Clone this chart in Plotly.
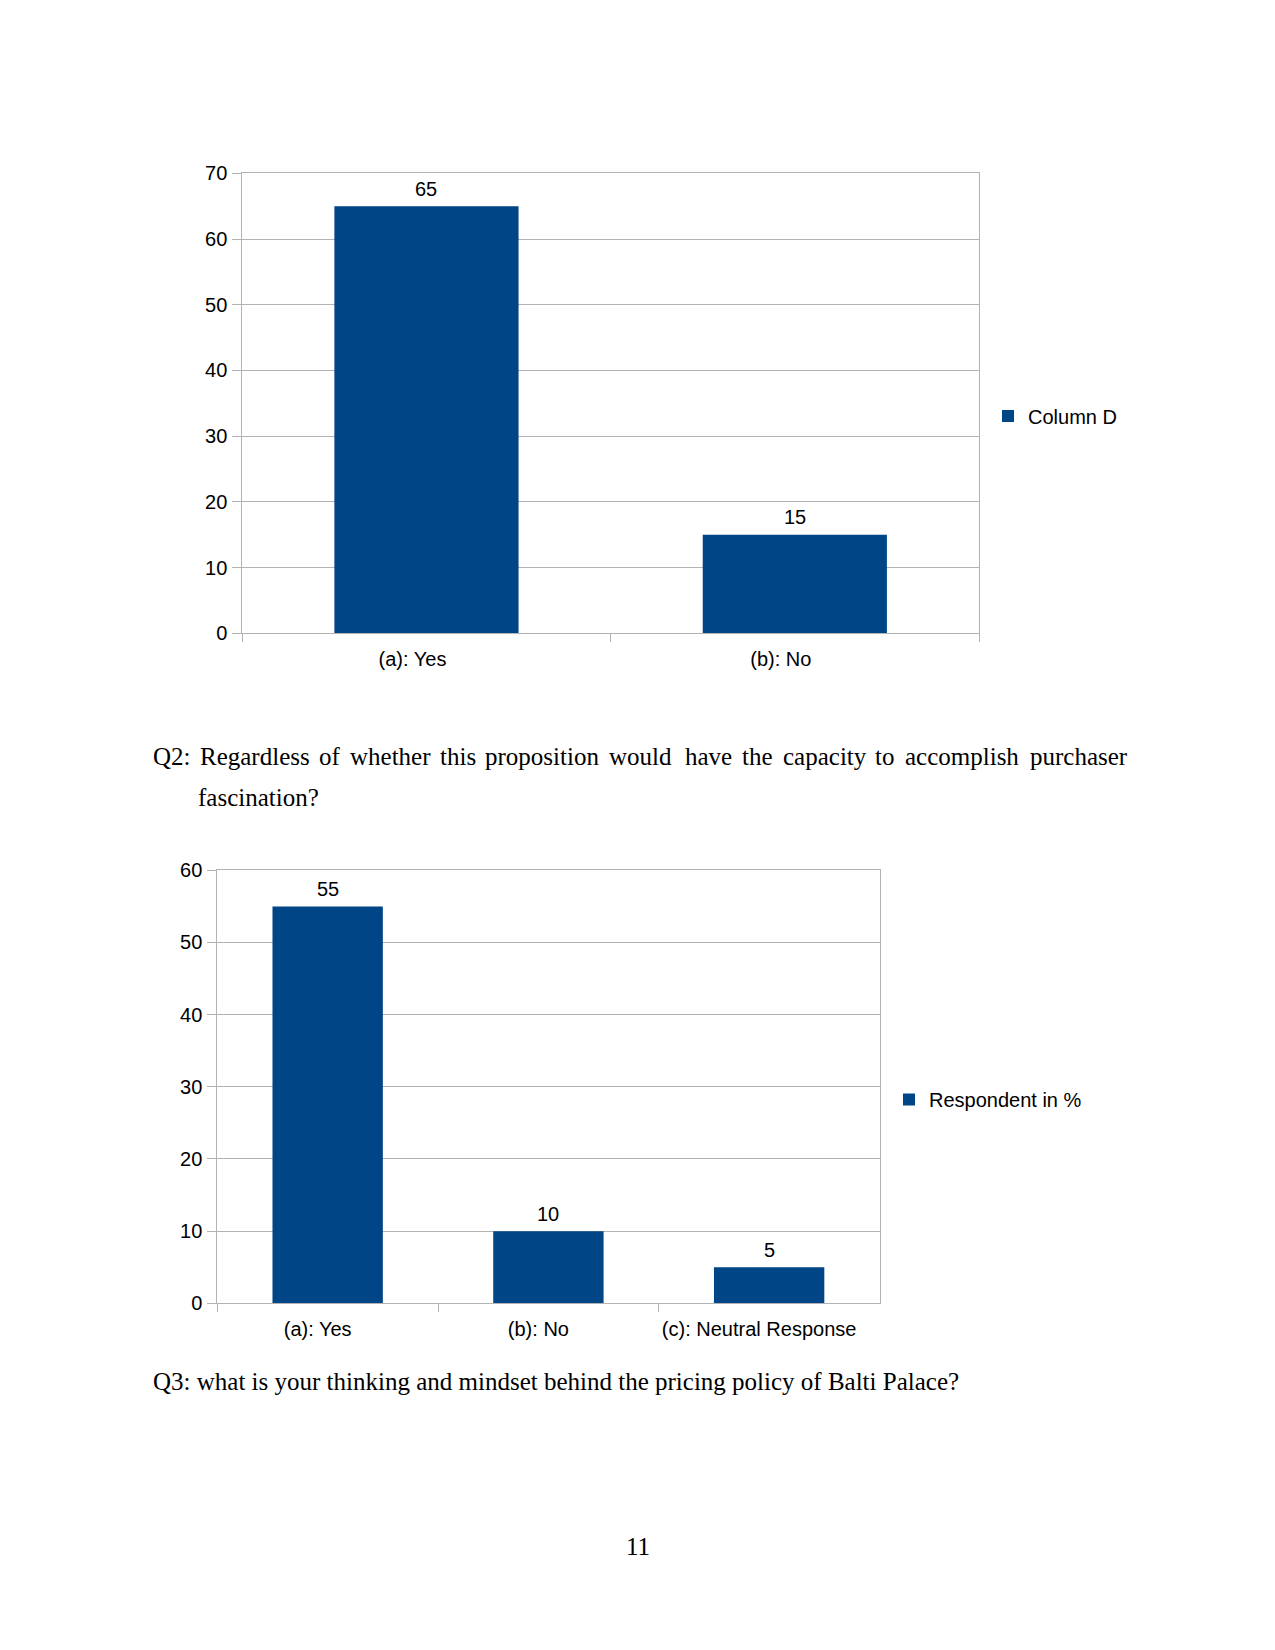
import plotly.graph_objects as go

W, H = 1275, 1650
OFF = 8  # default page body margin offsets the figure by this many px

# Chart 1 data
cats1 = ["(a): Yes", "(b): No"]
vals1 = [65, 15]
name1 = "Column D"

# Chart 2 data
cats2 = ["(a): Yes", "(b): No", "(c): Neutral Response"]
vals2 = [55, 10, 5]
name2 = "Respondent in %"

yticks1 = [0, 10, 20, 30, 40, 50, 60, 70]
yticks2 = [0, 10, 20, 30, 40, 50, 60]

# Body text (justified first line split into words)
q2_words = ["Q2:", "Regardless", "of", "whether", "this", "proposition", "would",
            "have", "the", "capacity", "to", "accomplish", "purchaser"]
q2_word_x = [151, 198.3, 317.3, 348.3, 438.3, 483.3, 606.7,
             683.3, 740, 780.7, 873.3, 903.3, 1028.3]
q2_line2 = "fascination?"
q3_text = "Q3: what is your thinking and mindset behind the pricing policy of Balti Palace?"
page_no = "11"

BAR = "#004586"
GRID = "#b3b3b3"
SANS = "Liberation Sans, Arial, sans-serif"
SERIF = "Liberation Serif, Times New Roman, serif"


def px_x(p):
    return (p - OFF) / W


def px_y(p):
    return 1 - (p - OFF) / H


fig = go.Figure()

fig.add_trace(go.Bar(
    x=cats1, y=vals1, name=name1, marker_color=BAR, marker_line_width=0,
    xaxis="x", yaxis="y", legend="legend", hoverinfo="x+y",
))
fig.add_trace(go.Bar(
    x=cats2, y=vals2, name=name2, marker_color=BAR, marker_line_width=0,
    xaxis="x2", yaxis="y2", legend="legend2", hoverinfo="x+y",
))

axis_common = dict(showline=True, linecolor=GRID, linewidth=1, mirror=True,
                   tickfont=dict(family=SANS, size=20, color="#000000"),
                   ticks="outside", tickcolor=GRID, zeroline=False,
                   automargin=False)

fig.update_layout(
    width=W, height=H,
    margin=dict(l=0, r=0, t=0, b=0, autoexpand=False),
    paper_bgcolor="white", plot_bgcolor="white",
    bargap=0.5,
    font=dict(family=SANS, size=20, color="#000000"),
    xaxis=dict(domain=[px_x(242.3), px_x(979)], anchor="y", type="category",
               tickson="boundaries", ticklen=8, showgrid=False,
               ticklabelshift=-14, ticklabelstandoff=8, **axis_common),
    yaxis=dict(domain=[px_y(633.3), px_y(173.3)], anchor="x", range=[0, 70],
               tickvals=yticks1, ticklen=9, showgrid=True, gridcolor=GRID,
               gridwidth=1, ticklabelstandoff=1, **axis_common),
    xaxis2=dict(domain=[px_x(217.3), px_x(879.5)], anchor="y2", type="category",
                tickson="boundaries", ticklen=8, showgrid=False,
                ticklabelshift=-10, ticklabelstandoff=8, **axis_common),
    yaxis2=dict(domain=[px_y(1303.3), px_y(870.3)], anchor="x2", range=[0, 60],
                tickvals=yticks2, ticklen=9, showgrid=True, gridcolor=GRID,
                gridwidth=1, ticklabelstandoff=1, **axis_common),
    legend=dict(x=px_x(988), y=px_y(416), xanchor="left", yanchor="middle",
                font=dict(family=SANS, size=20, color="#000000"),
                bgcolor="rgba(0,0,0,0)", borderwidth=0),
    legend2=dict(x=px_x(889), y=px_y(1099.5), xanchor="left", yanchor="middle",
                 font=dict(family=SANS, size=20, color="#000000"),
                 bgcolor="rgba(0,0,0,0)", borderwidth=0),
    showlegend=True,
)

# Value labels above bars
for cats, vals, xr, yr in [(cats1, vals1, "x", "y"), (cats2, vals2, "x2", "y2")]:
    for c, v in zip(cats, vals):
        fig.add_annotation(x=c, y=v, xref=xr, yref=yr, text=str(v),
                           showarrow=False, yanchor="middle", yshift=17.5,
                           font=dict(family=SANS, size=20, color="#000000"))

serif_font = dict(family=SERIF, size=25, color="#000000")
for w, xw in zip(q2_words, q2_word_x):
    fig.add_annotation(xref="paper", yref="paper", showarrow=False, text=w,
                       x=px_x(xw), y=px_y(756), xanchor="left", yanchor="middle",
                       font=serif_font)

anns = [
    dict(text=q2_line2, x=px_x(195.6), y=px_y(797.5), xanchor="left", yanchor="middle"),
    dict(text=q3_text, x=px_x(150.5), y=px_y(1381), xanchor="left", yanchor="middle"),
    dict(text=page_no, x=px_x(637.5), y=px_y(1546.5), xanchor="center", yanchor="middle"),
]
for a in anns:
    fig.add_annotation(xref="paper", yref="paper", showarrow=False,
                       font=serif_font, **a)

fig.write_html("out.html")
